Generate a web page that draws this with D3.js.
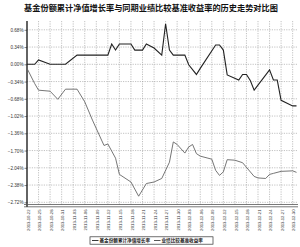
<!DOCTYPE html>
<html>
<head>
<meta charset="utf-8">
<script src="https://cdn.jsdelivr.net/npm/d3@7.9.0/dist/d3.min.js"></script>
<style>
  body { margin: 0; background: #fff; }
  svg { display: block; }
</style>
</head>
<body>
<svg id="chart" width="300" height="247"></svg>
<script>
const title = '基金份额累计净值增长率与同期业绩比较基准收益率的历史走势对比图';
const seriesNames = ['基金份额累计净值增长率', '业绩比较基准收益率'];

// y ticks (percent)
const yTicks = [0.68, 0.34, 0.00, -0.34, -0.68, -1.02, -1.36, -1.70, -2.04, -2.38, -2.72];

// x tick labels, every 3 days
const xTickLabels = ['2013-10-22', '2013-10-25', '2013-10-28', '2013-10-31', '2013-11-03', '2013-11-06',
  '2013-11-09', '2013-11-12', '2013-11-15', '2013-11-18', '2013-11-21', '2013-11-24',
  '2013-11-27', '2013-11-30', '2013-12-03', '2013-12-06', '2013-12-09', '2013-12-12',
  '2013-12-15', '2013-12-18', '2013-12-21', '2013-12-24', '2013-12-27', '2013-12-30'];

// fund cumulative NAV growth (%)
const fundDates = ['2013-10-22', '2013-10-24', '2013-10-25', '2013-10-28', '2013-11-01', '2013-11-04',
  '2013-11-12', '2013-11-13', '2013-11-14', '2013-11-15', '2013-11-18', '2013-11-19', '2013-11-21',
  '2013-11-22', '2013-11-24', '2013-11-26', '2013-11-27', '2013-11-28', '2013-11-29', '2013-12-02',
  '2013-12-03', '2013-12-05', '2013-12-06', '2013-12-10', '2013-12-11', '2013-12-12', '2013-12-13',
  '2013-12-16', '2013-12-17', '2013-12-18', '2013-12-19', '2013-12-20', '2013-12-24', '2013-12-25',
  '2013-12-26', '2013-12-27', '2013-12-30', '2013-12-31'];
const fundValues = [0.00, 0.00, 0.085, 0.00, 0.00, 0.18,
  0.18, 0.40, 0.28, 0.40, 0.40, 0.28, 0.28,
  0.40, 0.32, 0.18, 0.80, 0.28, 0.18, 0.18,
  -0.01, -0.20, -0.08, 0.38, 0.38, 0.28, -0.21,
  -0.31, -0.20, -0.20, -0.32, -0.51, -0.11, -0.31,
  -0.31, -0.71, -0.82, -0.82];

// benchmark return (%)
const benchDates = ['2013-10-22', '2013-10-24', '2013-10-25', '2013-10-28', '2013-10-30', '2013-11-01',
  '2013-11-04', '2013-11-06', '2013-11-08', '2013-11-11', '2013-11-12', '2013-11-14', '2013-11-15',
  '2013-11-18', '2013-11-20', '2013-11-22', '2013-11-24', '2013-11-26', '2013-11-28', '2013-11-29',
  '2013-11-30', '2013-12-02', '2013-12-03', '2013-12-04', '2013-12-05', '2013-12-06', '2013-12-09',
  '2013-12-10', '2013-12-11', '2013-12-12', '2013-12-13', '2013-12-15', '2013-12-17', '2013-12-20',
  '2013-12-21', '2013-12-23', '2013-12-24', '2013-12-25', '2013-12-27', '2013-12-30', '2013-12-31'];
const benchValues = [-0.08, -0.38, -0.51, -0.53, -0.69, -0.49,
  -0.49, -0.74, -1.10, -1.60, -1.57, -1.85, -2.17,
  -2.32, -2.60, -2.35, -2.32, -2.25, -1.93, -1.53,
  -1.58, -1.75, -1.63, -1.58, -1.76, -1.81, -1.87,
  -2.09, -2.19, -2.12, -1.88, -1.89, -1.94, -2.21,
  -2.24, -2.25, -2.17, -2.15, -2.11, -2.10, -2.13];

const parse = d3.timeParse('%Y-%m-%d');
const fund = fundDates.map((d, i) => ({ date: parse(d), value: fundValues[i] }));
const bench = benchDates.map((d, i) => ({ date: parse(d), value: benchValues[i] }));

const svg = d3.select('#chart');
const plotLeft = 27, plotRight = 296.5, plotTop = 21, plotBottom = 205;

const x = d3.scaleTime()
  .domain([parse('2013-10-22'), parse('2013-12-31')])
  .range([plotLeft, plotRight]);

const y = d3.scaleLinear()
  .domain([-2.72, 0])
  .range([202.3, 64.3]);

// title
svg.append('text')
  .attr('x', 151).attr('y', 10.5)
  .attr('text-anchor', 'middle')
  .attr('font-family', '"Noto Sans CJK SC", sans-serif')
  .attr('font-weight', 'bold')
  .attr('font-size', 8.2)
  .attr('fill', '#111')
  .text(title);

// grid
const grid = svg.append('g')
  .attr('stroke', '#999')
  .attr('stroke-width', 0.6)
  .attr('stroke-dasharray', '1.2,1.2');

grid.selectAll('line.h')
  .data(yTicks)
  .join('line')
  .attr('class', 'h')
  .attr('x1', plotLeft).attr('x2', plotRight + 1.5)
  .attr('y1', d => y(d)).attr('y2', d => y(d));

grid.selectAll('line.v')
  .data(xTickLabels.slice(1))
  .join('line')
  .attr('class', 'v')
  .attr('x1', d => x(parse(d))).attr('x2', d => x(parse(d)))
  .attr('y1', plotTop).attr('y2', plotBottom);

// y axis
const yAxis = svg.append('g')
  .attr('transform', `translate(${plotLeft},0)`)
  .call(d3.axisLeft(y).tickValues(yTicks).tickSize(2.5).tickFormat(d => d3.format('.2f')(d) + '%'));
yAxis.select('.domain').remove();
yAxis.selectAll('line').attr('stroke', '#333').attr('stroke-width', 0.6);
yAxis.selectAll('text')
  .attr('x', -3.5)
  .attr('font-family', '"Liberation Sans", Arial, sans-serif')
  .attr('font-size', 4.6)
  .attr('fill', '#333');

svg.append('line')
  .attr('x1', plotLeft).attr('x2', plotLeft)
  .attr('y1', plotTop).attr('y2', plotBottom + 2)
  .attr('stroke', '#222').attr('stroke-width', 1.4);

// x axis: double line
svg.append('line')
  .attr('x1', plotLeft - 3).attr('x2', plotRight + 1.5)
  .attr('y1', plotBottom - 0.5).attr('y2', plotBottom - 0.5)
  .attr('stroke', '#555').attr('stroke-width', 0.8);
svg.append('line')
  .attr('x1', plotLeft - 3).attr('x2', plotRight + 1.5)
  .attr('y1', plotBottom + 1.8).attr('y2', plotBottom + 1.8)
  .attr('stroke', '#555').attr('stroke-width', 0.8);

svg.append('g')
  .selectAll('text')
  .data(xTickLabels)
  .join('text')
  .attr('transform', d => `translate(${x(parse(d)) + 2.6},209.5) rotate(-90)`)
  .attr('text-anchor', 'end')
  .attr('font-family', '"Liberation Sans", Arial, sans-serif')
  .attr('font-size', 4.2)
  .attr('fill', '#333')
  .text(d => d);

// lines
const line = d3.line()
  .x(d => x(d.date))
  .y(d => y(d.value));

svg.append('path')
  .datum(bench)
  .attr('fill', 'none')
  .attr('stroke', '#666')
  .attr('stroke-width', 0.9)
  .attr('d', line);

svg.append('path')
  .datum(fund)
  .attr('fill', 'none')
  .attr('stroke', '#222')
  .attr('stroke-width', 1.1)
  .attr('d', line);

// legend
const legend = svg.append('g');
legend.append('rect')
  .attr('x', 90).attr('y', 236.8)
  .attr('width', 123).attr('height', 7.4)
  .attr('fill', '#fff')
  .attr('stroke', '#333').attr('stroke-width', 0.7);

const legendItems = [
  { name: seriesNames[0], color: '#222', x: 92 },
  { name: seriesNames[1], color: '#444', x: 154 }
];
legendItems.forEach(it => {
  legend.append('line')
    .attr('x1', it.x).attr('x2', it.x + 6.5)
    .attr('y1', 240.5).attr('y2', 240.5)
    .attr('stroke', it.color).attr('stroke-width', 0.9);
  legend.append('text')
    .attr('x', it.x + 7.5).attr('y', 242.3)
    .attr('font-family', '"Noto Sans CJK SC", sans-serif')
    .attr('font-weight', 'bold')
    .attr('font-size', 4.6)
    .attr('fill', '#222')
    .text(it.name);
});
</script>
</body>
</html>
